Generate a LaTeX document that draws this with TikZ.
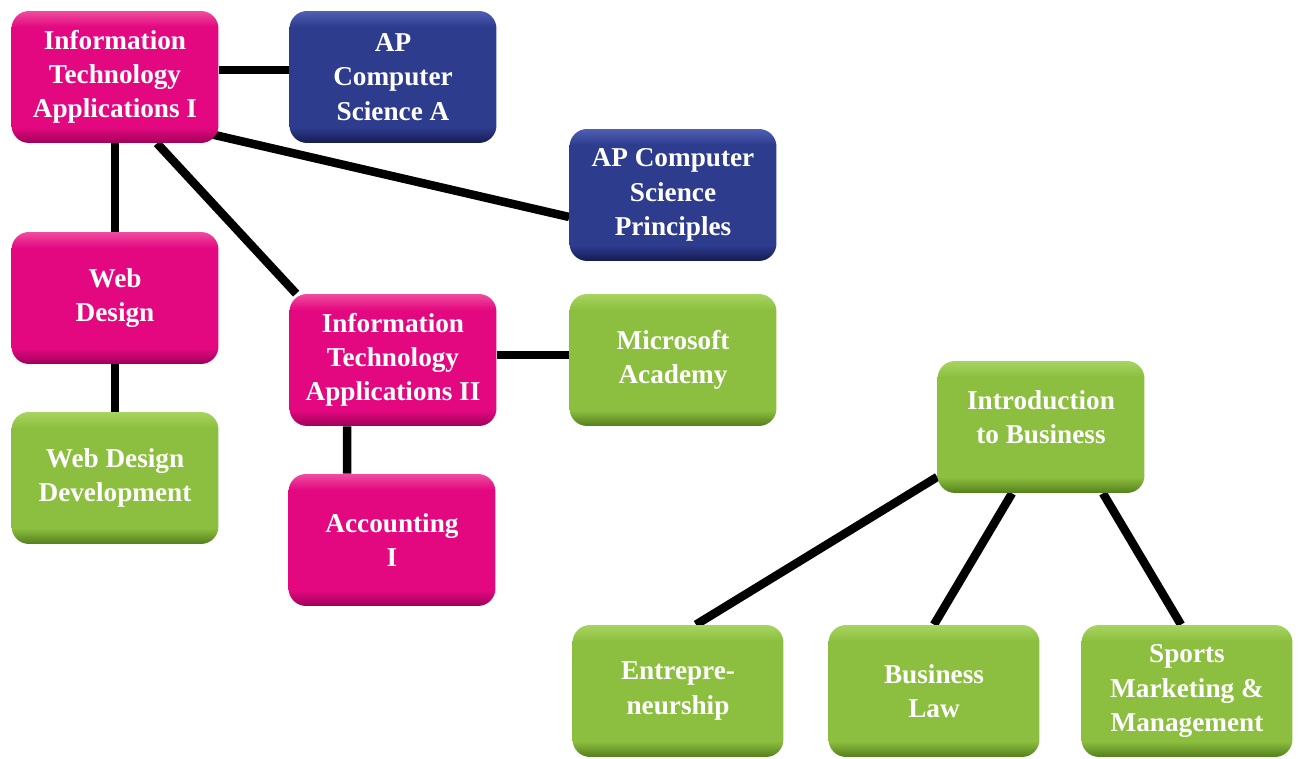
\documentclass[tikz,border=0pt]{standalone}
\usepackage{fontspec}
\setmainfont{Liberation Serif}
\usepackage{tikz}
\usetikzlibrary{backgrounds}

\definecolor{pinkT}{HTML}{F04C9F}
\definecolor{pinkM}{HTML}{E3087F}
\definecolor{pinkB}{HTML}{A0005A}
\definecolor{blueT}{HTML}{4F5FB2}
\definecolor{blueM}{HTML}{2E3C8E}
\definecolor{blueB}{HTML}{151C52}
\definecolor{greenT}{HTML}{A8D460}
\definecolor{greenM}{HTML}{8CBF3F}
\definecolor{greenB}{HTML}{557F1C}

\pgfdeclareverticalshading{pinkbevel}{100bp}{color(0bp)=(pinkB); color(25bp)=(pinkB);
  color(31bp)=(pinkM); color(69bp)=(pinkM); color(75bp)=(pinkT); color(100bp)=(pinkT)}
\pgfdeclareverticalshading{bluebevel}{100bp}{color(0bp)=(blueB); color(25bp)=(blueB);
  color(31bp)=(blueM); color(69bp)=(blueM); color(75bp)=(blueT); color(100bp)=(blueT)}
\pgfdeclareverticalshading{greenbevel}{100bp}{color(0bp)=(greenB); color(25bp)=(greenB);
  color(31bp)=(greenM); color(69bp)=(greenM); color(75bp)=(greenT); color(100bp)=(greenT)}

\tikzset{
  course/.style={rounded corners=10pt, minimum width=4.14cm, minimum height=2.64cm,
    align=center, text=white, inner sep=2pt, shade,
    font=\bfseries\fontsize{15.5}{19.5}\selectfont},
  itbox/.style={course, shading=pinkbevel},
  apbox/.style={course, shading=bluebevel},
  bizbox/.style={course, shading=greenbevel},
  link/.style={line width=0.17cm, black}
}

\begin{document}
\begin{tikzpicture}[x=0.02cm, y=-0.02cm]
  \useasboundingbox (0,0) rectangle (1303,759);

  \node[itbox] (itaI) at (115,77) {Information\\Technology\\Applications I};
  \node[apbox] (apcsa) at (393,77) {AP\\Computer\\Science A};
  \node[apbox] (apcsp) at (673,195) {AP Computer\\Science\\Principles};
  \node[itbox] (webd) at (115,298) {Web\\Design};
  \node[itbox] (itaII) at (393,360) {Information\\Technology\\Applications II};
  \node[bizbox] (msacad) at (673,360) {Microsoft\\Academy};
  \node[bizbox] (wdd) at (115,478) {Web Design\\Development};
  \node[itbox] (acct) at (392,540) {Accounting\\I};
  \node[bizbox] (intro) at (1041,427) {Introduction\\to Business\\[-8pt]\mbox{}};
  \node[bizbox, minimum width=4.22cm] (entre) at (678,691) {Entrepre-\\neurship};
  \node[bizbox, minimum width=4.22cm] (law) at (934,691) {Business\\Law};
  \node[bizbox, minimum width=4.22cm] (sports) at (1187,691) {Sports\\Marketing \&\\Management};

  \begin{scope}[on background layer]
    \draw[link] ([yshift=0.14cm]itaI.east) -- ([yshift=0.14cm]apcsa.west);
    \draw[link] ([yshift=-0.7cm]itaI.center) -- ([yshift=-0.44cm]apcsp.west);
    \draw[link] (itaI.south) -- (webd.north);
    \draw[link] ([xshift=0.84cm]itaI.south) -- ([xshift=0.14cm]itaII.north west);
    \draw[link] (webd.south) -- (wdd.north);
    \draw[link] ([yshift=0.1cm]itaII.east) -- ([yshift=0.1cm]msacad.west);
    \draw[link] ([xshift=-0.92cm]itaII.south) -- ([xshift=-0.9cm]acct.north);
    \draw[link] ([yshift=-1.0cm]intro.west) -- ([xshift=0.36cm]entre.north);
    \draw[link] ([xshift=-0.58cm]intro.south) -- (law.north);
    \draw[link] ([xshift=1.24cm]intro.south) -- ([xshift=-0.12cm]sports.north);
  \end{scope}
\end{tikzpicture}
\end{document}
